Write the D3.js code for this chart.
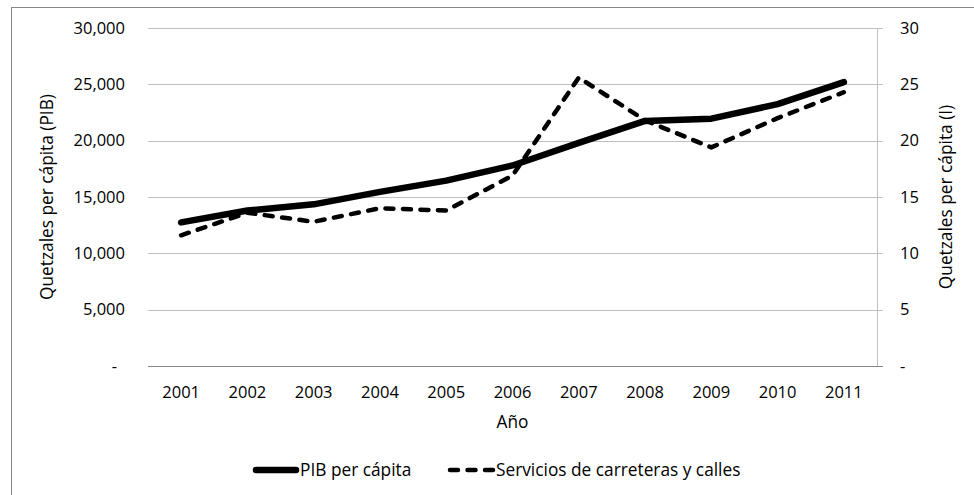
<!DOCTYPE html>
<html>
<head>
<meta charset="utf-8">
<script src="https://cdn.jsdelivr.net/npm/d3@7"></script>
<style>
  body { margin: 0; background: #fff; }
  svg text { font-family: "Open Sans", sans-serif; font-size: 16.5px; fill: #000; }
  svg text.words { font-size: 17.3px; }
</style>
</head>
<body>
<svg id="chart" width="974" height="495"></svg>
<script>
// data
const years = ["2001", "2002", "2003", "2004", "2005", "2006", "2007", "2008", "2009", "2010", "2011"]
const pib = [12750, 13800, 14350, 15450, 16450, 17800, 19800, 21750, 21950, 23250, 25200]
const carreteras = [11.6, 13.6, 12.8, 14.0, 13.8, 16.9, 25.6, 21.8, 19.4, 22.0, 24.3]
const leftTicks = [0, 5000, 10000, 15000, 20000, 25000, 30000]
const rightTicks = [0, 5, 10, 15, 20, 25, 30]

const svg = d3.select("#chart")

// outer border
svg.append("rect")
  .attr("x", 11.5).attr("y", 7.5)
  .attr("width", 980).attr("height", 500)
  .attr("fill", "none")
  .attr("stroke", "#868686")

var margin = {top: 28, left: 148, right: 877, bottom: 366}
var width = margin.right - margin.left,
    height = margin.bottom - margin.top

var x = d3.scaleBand().domain(years).range([margin.left, margin.right])
var yL = d3.scaleLinear().domain([0, 30000]).range([margin.bottom, margin.top])
var yR = d3.scaleLinear().domain([0, 30]).range([margin.bottom, margin.top])
var cx = d => x(d) + x.bandwidth() / 2

// gridlines (with small ticks out to the right axis)
svg.append("g")
  .selectAll("line")
  .data(leftTicks.filter(d => d > 0))
  .enter().append("line")
  .attr("x1", margin.left).attr("x2", margin.right + 6)
  .attr("y1", d => Math.round(yL(d)) + 0.5)
  .attr("y2", d => Math.round(yL(d)) + 0.5)
  .attr("stroke", "#bfbfbf")

// right axis line
svg.append("line")
  .attr("x1", margin.right + 0.5).attr("x2", margin.right + 0.5)
  .attr("y1", margin.top).attr("y2", margin.bottom)
  .attr("stroke", "#bfbfbf")

// zero line
svg.append("line")
  .attr("x1", margin.left).attr("x2", margin.right + 6)
  .attr("y1", Math.round(yL(0)) + 0.5).attr("y2", Math.round(yL(0)) + 0.5)
  .attr("stroke", "#868686")

// left axis labels
var leftAxis = svg.append("g")
  .attr("transform", "translate(" + (margin.left - 23) + ",0)")
  .call(d3.axisLeft(yL).tickValues(leftTicks).tickSize(0).tickPadding(0)
    .tickFormat(d => d === 0 ? "-" : d3.format(",")(d)))
leftAxis.select(".domain").remove()
leftAxis.selectAll(".tick text").filter(d => d === 0).attr("dx", -8)

// right axis labels
var rightAxis = svg.append("g")
  .attr("transform", "translate(" + (margin.right + 23) + ",0)")
  .call(d3.axisRight(yR).tickValues(rightTicks).tickSize(0).tickPadding(0)
    .tickFormat(d => d === 0 ? "-" : d))
rightAxis.select(".domain").remove()

// x axis labels
var xAxis = svg.append("g")
  .attr("transform", "translate(0," + (margin.bottom + 20) + ")")
  .call(d3.axisBottom(x).tickSize(0).tickPadding(0))
xAxis.select(".domain").remove()

// axis titles
svg.append("text")
  .attr("class", "words")
  .attr("x", (margin.left + margin.right) / 2).attr("y", 428)
  .attr("text-anchor", "middle")
  .text("Año")

svg.append("text")
  .attr("class", "words")
  .attr("transform", "translate(53," + (margin.top + height / 2) + ") rotate(-90)")
  .attr("text-anchor", "middle")
  .text("Quetzales per cápita (PIB)")

svg.append("text")
  .attr("class", "words")
  .attr("transform", "translate(952," + (margin.top + height / 2) + ") rotate(-90)")
  .attr("text-anchor", "middle")
  .text("Quetzales per cápita (I)")

// lines
var linePib = d3.line().x((d, i) => cx(years[i])).y(d => yL(d))
var lineCar = d3.line().x((d, i) => cx(years[i])).y(d => yR(d))

svg.append("path")
  .datum(carreteras)
  .attr("d", lineCar)
  .attr("fill", "none")
  .attr("stroke", "#000")
  .attr("stroke-width", 4.5)
  .attr("stroke-dasharray", "8,9.5")
  .attr("stroke-linecap", "round")
  .attr("stroke-linejoin", "round")

svg.append("path")
  .datum(pib)
  .attr("d", linePib)
  .attr("fill", "none")
  .attr("stroke", "#000")
  .attr("stroke-width", 6.5)
  .attr("stroke-linecap", "round")
  .attr("stroke-linejoin", "round")

// legend
var legend = svg.append("g")
legend.append("line")
  .attr("x1", 256).attr("x2", 296).attr("y1", 470).attr("y2", 470)
  .attr("stroke", "#000").attr("stroke-width", 6.5).attr("stroke-linecap", "round")
legend.append("text")
  .attr("class", "words")
  .attr("x", 300).attr("y", 476)
  .text("PIB per cápita")
legend.append("line")
  .attr("x1", 450).attr("x2", 494).attr("y1", 470).attr("y2", 470)
  .attr("stroke", "#000").attr("stroke-width", 4.5)
  .attr("stroke-dasharray", "8,9.5").attr("stroke-linecap", "round")
legend.append("text")
  .attr("class", "words")
  .attr("x", 496).attr("y", 476)
  .text("Servicios de carreteras y calles")
</script>
</body>
</html>
